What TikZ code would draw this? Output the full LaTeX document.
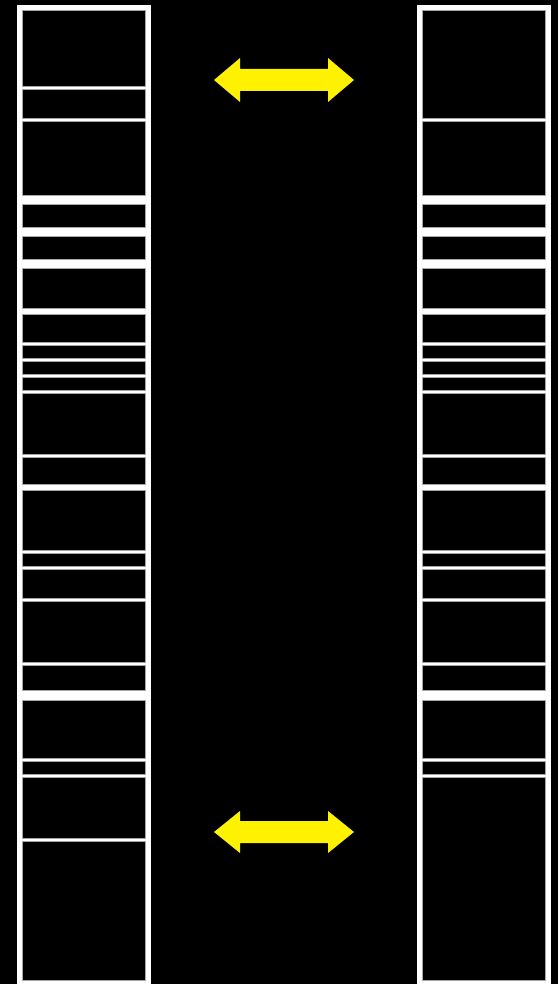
\documentclass[tikz,border=0pt]{standalone}
\begin{document}
\begin{tikzpicture}[x=1pt,y=-1pt,
  colbg/.style={fill=white},
  cell/.style={fill=black,draw=gray!70,line width=0.8pt},
  arr/.style={fill=yellow}]
\fill[black] (0,0) rectangle (558,984);
\useasboundingbox (0,0) rectangle (558,984);
% columns
\fill[colbg] (17,5) rectangle (151,984);
\fill[colbg] (417,5) rectangle (551,984);
% left cells
\foreach \a/\b in {10/87,89/119,121/196,204/228,236/260,268/309,314/343,345/359,361/375,377/391,393/455,457/485,490/551,553/567,569/599,601/663,665/691,700/759,761/775,777/839,841/981}
  \draw[cell] (22.4,\a+0.4) rectangle (145.6,\b-0.4);
% right cells
\foreach \a/\b in {10/119,121/196,204/228,236/260,268/309,314/343,345/359,361/375,377/391,393/455,457/485,490/551,553/567,569/599,601/663,665/691,700/759,761/775,777/981}
  \draw[cell] (422.4,\a+0.4) rectangle (545.6,\b-0.4);
% arrows
\fill[arr] (214,80) -- (240,58) -- (240,69) -- (328,69) -- (328,58) -- (354,80) -- (328,102) -- (328,91) -- (240,91) -- (240,102) -- cycle;
\fill[arr] (214,832) -- (240,811) -- (240,821) -- (328,821) -- (328,811) -- (354,832) -- (328,853) -- (328,843) -- (240,843) -- (240,853) -- cycle;
\end{tikzpicture}
\end{document}
